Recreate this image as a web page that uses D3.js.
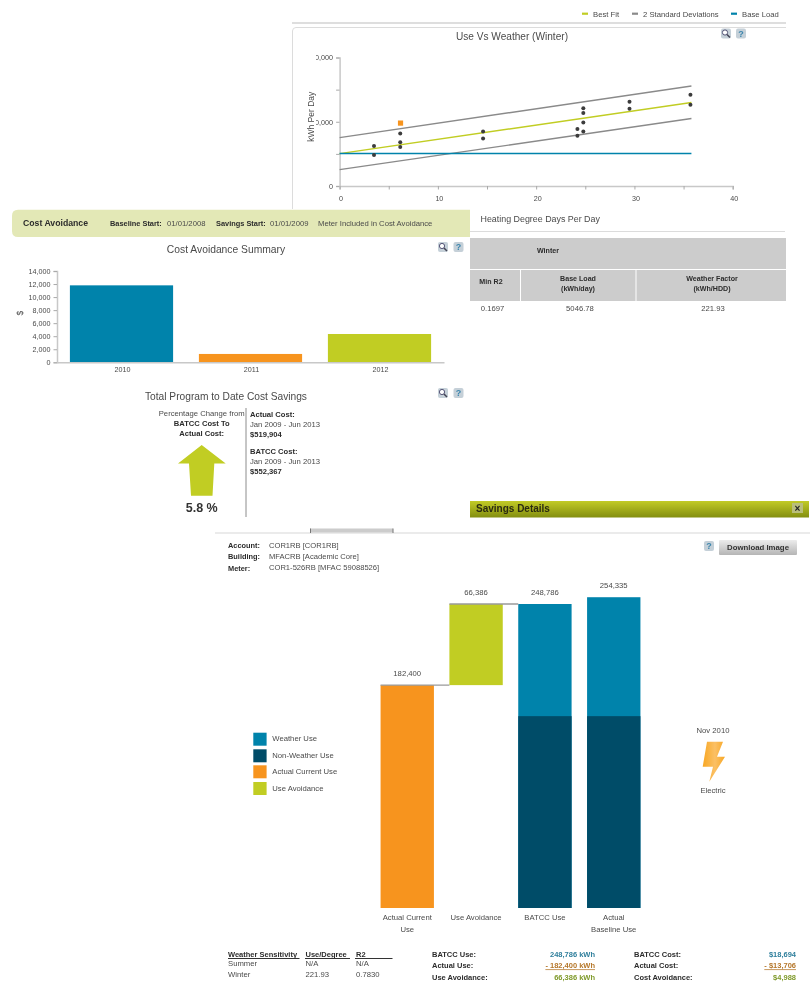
<!DOCTYPE html>
<html><head><meta charset="utf-8">
<script src="https://cdnjs.cloudflare.com/ajax/libs/d3/7.8.5/d3.min.js"></script>
<style>
html,body{margin:0;padding:0;background:#fff;overflow:hidden}
svg{display:block;filter:blur(0.55px);font-family:"Liberation Sans",Arial,sans-serif}
</style></head><body><svg id="c" width="812" height="997"></svg>
<script>
// ---- data ----
const scatterHdd    = [3.5,3.5,6.17,6.17,6.17,14.6,14.6,24.2,24.2,24.8,24.8,24.8,24.8,29.5,29.5,35.7,35.7];
const scatterUse    = [6220,4820,8190,6790,6060,8500,7410,8860,7820,12120,11350,9900,8500,13110,12020,14200,12640];
const currentHdd    = [6.2];
const currentUse    = [9790];
const fitHdd        = [0,35.8];
const bestFit       = [5047,12992];
const upperDev      = [7530,15570];
const lowerDev      = [2550,10500];
const baseLoad      = [5047,5047];
const scatterLegend = ["Best Fit","2 Standard Deviations","Base Load"];

const costYears  = ["2010","2011","2012"];
const costValues = [11800,1280,4340];

const useCategories = [["Actual Current","Use"],["Use Avoidance"],["BATCC Use"],["Actual","Baseline Use"]];
const useKeys       = ["Actual Current Use","Use Avoidance","BATCC Use","Actual Baseline Use"];
const useTotals     = [182400,248786,248786,254335];
const useBases      = [0,182400,0,0];
const useLabels     = [182400,66386,248786,254335];
const nonWeather    = [0,0,157000,157000];
const useLegend     = ["Weather Use","Non-Weather Use","Actual Current Use","Use Avoidance"];

const COL = {blue:"#0083ab",dark:"#004c68",orange:"#f7941e",lime:"#c1cd23",gray:"#8a8a8a",txt:"#4a4a4a",bold:"#2c2c2c"};
const svg = d3.select("#c");
const defs = svg.append("defs");
const FS = 7.7;

function T(x,y,s,o={}){
  const t = svg.append("text").attr("x",x).attr("y",y).attr("dy","0.35em").text(s)
    .attr("font-size",o.size||FS).attr("fill",o.fill||(o.bold?COL.bold:COL.txt))
    .attr("text-anchor",o.anchor||"start");
  if(o.bold) t.attr("font-weight","bold");
  if(o.rotate) t.attr("transform",`rotate(${o.rotate} ${x} ${y})`);
  if(o.underline) t.attr("text-decoration","underline");
  return t;
}
function R(x,y,w,h,f){return svg.append("rect").attr("x",x).attr("y",y).attr("width",w).attr("height",h).attr("fill",f);}
function L(x1,y1,x2,y2,c,w){return svg.append("line").attr("x1",x1).attr("y1",y1).attr("x2",x2).attr("y2",y2).attr("stroke",c).attr("stroke-width",w||1);}
function iconBtn(cx,cy,kind){
  R(cx-5,cy-5,10,10,"#c5d0d8").attr("rx",2);
  if(kind==="?") T(cx,cy,"?",{size:9,bold:true,anchor:"middle",fill:"#3d86ad"});
  else{
    svg.append("circle").attr("cx",cx-1).attr("cy",cy-1).attr("r",2.6).attr("fill","#fff").attr("stroke","#557").attr("stroke-width",1);
    L(cx+1,cy+1,cx+4,cy+4,"#445",1.5);
  }
}
function styleAxis(g,dx,dy){
  g.selectAll("path.domain").attr("stroke","#c8c8c8").attr("stroke-width",1.5);
  g.selectAll(".tick line").attr("stroke","#aaa");
  g.selectAll("text").attr("fill",COL.txt).attr("font-size",7.2).attr("font-family","Liberation Sans")
    .attr("transform",`translate(${dx||0},${dy||0})`);
}

// ---- top chart: Use Vs Weather ----
L(292,23,786,23,"#dedede",2);
svg.append("path").attr("d","M292.5,209V31Q292.5,27.5 296,27.5H786").attr("fill","none").attr("stroke","#dcdcdc");
const lgX=[582,632,731], lgT=[593,643,742], lgC=[COL.lime,COL.gray,COL.blue];
scatterLegend.forEach((s,i)=>{R(lgX[i],12.6,6,2.2,lgC[i]);T(lgT[i],14,s);});
T(512,36,"Use Vs Weather (Winter)",{size:10.1,anchor:"middle"});
iconBtn(726,33.5,"m");iconBtn(741,33.5,"?");
const sx=d3.scaleLinear().domain([0,40]).range([339.6,732.7]);
const sy=d3.scaleLinear().domain([0,20000]).range([186,57.5]);
defs.append("clipPath").attr("id","clipY").append("rect").attr("x",316).attr("y",40).attr("width",40).attr("height",165);
const yAx=svg.append("g").attr("clip-path","url(#clipY)").append("g").attr("transform","translate(339.6,0)")
  .call(d3.axisLeft(sy).tickValues([0,5000,10000,15000,20000]).tickSize(3.5).tickPadding(3).tickFormat(d=>d%10000===0?d3.format(",")(d):""));
styleAxis(yAx);
const xAx=svg.append("g").attr("transform","translate(0,186)")
  .call(d3.axisBottom(sx).tickValues([0,5,10,15,20,25,30,35,40]).tickSize(3.5).tickPadding(5).tickFormat(d=>d%10===0?d:""));
styleAxis(xAx,1,1);
const ln=d3.line().x((d,i)=>sx(fitHdd[i])).y(d=>sy(d));
[[upperDev,COL.gray],[lowerDev,COL.gray],[bestFit,COL.lime],[baseLoad,COL.blue]].forEach(([a,c])=>{
  svg.append("path").attr("d",ln(a)).attr("fill","none").attr("stroke",c).attr("stroke-width",1.4);
});
svg.append("g").selectAll("circle").data(scatterHdd).join("circle")
  .attr("cx",d=>sx(d)).attr("cy",(d,i)=>sy(scatterUse[i])).attr("r",2).attr("fill","#3c3c3c");
svg.append("g").selectAll("rect").data(currentHdd).join("rect")
  .attr("x",d=>sx(d)-2.6).attr("y",(d,i)=>sy(currentUse[i])-2.6).attr("width",5.2).attr("height",5.2).attr("fill",COL.orange);
T(310.7,116.7,"kWh Per Day",{size:8.5,anchor:"middle",rotate:-90});
T(480.5,219,"Heating Degree Days Per Day",{size:8.9});
L(470,231.5,785,231.5,"#dcdcdc",1);

// ---- table ----
R(470,238,316,31,"#cccccc");
R(470,270,50,31,"#cccccc");R(521,270,114.5,31,"#cccccc");R(636.5,270,149.5,31,"#cccccc");
T(548,251,"Winter",{size:7.1,bold:true,anchor:"middle"});
T(491,282,"Min R2",{size:7.1,bold:true,anchor:"middle"});
T(578,278.5,"Base Load",{size:7.1,bold:true,anchor:"middle"});
T(578,289,"(kWh/day)",{size:7.1,bold:true,anchor:"middle"});
T(712,278.5,"Weather Factor",{size:7.1,bold:true,anchor:"middle"});
T(712,289,"(kWh/HDD)",{size:7.1,bold:true,anchor:"middle"});
T(492.5,308.5,"0.1697",{anchor:"middle"});
T(580,308.5,"5046.78",{anchor:"middle"});
T(713,308.5,"221.93",{anchor:"middle"});

// ---- banner ----
svg.append("path").attr("d","M470,209.7H18Q12,209.7 12,215.7V231Q12,237 18,237H470Z").attr("fill","#e3e8b6");
T(23,223,"Cost Avoidance",{size:8.7,bold:true});
T(110,223,"Baseline Start:",{size:7.4,bold:true});
T(167,223,"01/01/2008",{});
T(216,223,"Savings Start:",{size:7.4,bold:true});
T(270,223,"01/01/2009",{});
T(318,223,"Meter Included in Cost Avoidance",{});

// ---- cost avoidance summary ----
T(226,249.5,"Cost Avoidance Summary",{size:10.3,anchor:"middle"});
iconBtn(443,247,"m");iconBtn(458.5,247,"?");
const bx=d3.scaleBand().domain(costYears).range([57,444]).paddingInner(0.2).paddingOuter(0.1);
const by=d3.scaleLinear().domain([0,14000]).range([362.3,271]);
const bCol=[COL.blue,COL.orange,COL.lime];
svg.append("g").selectAll("rect").data(costValues).join("rect")
  .attr("x",(d,i)=>bx(costYears[i])).attr("y",d=>by(d)).attr("width",bx.bandwidth())
  .attr("height",d=>by(0)-by(d)).attr("fill",(d,i)=>bCol[i]);
const bya=svg.append("g").attr("transform","translate(57,0)")
  .call(d3.axisLeft(by).tickValues(d3.range(0,14001,2000)).tickSize(3.5).tickPadding(3).tickFormat(d3.format(",")));
styleAxis(bya);
const bxa=svg.append("g").attr("transform","translate(0,362.3)").call(d3.axisBottom(bx).tickSize(0).tickPadding(5));
styleAxis(bxa,1,0);
T(20,313,"$",{size:8.5,anchor:"middle",rotate:-90});

// ---- total program ----
T(226,396,"Total Program to Date Cost Savings",{size:10.2,anchor:"middle"});
iconBtn(443,393,"m");iconBtn(458.5,393,"?");
T(201.7,413.7,"Percentage Change from",{anchor:"middle"});
T(201.7,423.7,"BATCC Cost To",{size:7.6,bold:true,anchor:"middle"});
T(201.7,433.7,"Actual Cost:",{size:7.6,bold:true,anchor:"middle"});
svg.append("path").attr("d","M201.7,445L225.7,463.5H214.3L212.5,495.7H191L189,463.5H178Z").attr("fill",COL.lime);
T(201.7,508,"5.8 %",{size:12.5,anchor:"middle",fill:"#333"}).attr("font-weight","bold");
L(246,408,246,517,"#8c8c8c",1);
T(250,414,"Actual Cost:",{size:7.6,bold:true});
T(250,424,"Jan 2009 - Jun 2013");
T(250,434,"$519,904",{size:7.6,bold:true});
T(250,451,"BATCC Cost:",{size:7.6,bold:true});
T(250,461,"Jan 2009 - Jun 2013");
T(250,471,"$552,367",{size:7.6,bold:true});

// ---- savings details header ----
const g1=defs.append("linearGradient").attr("id","olive").attr("x1",0).attr("x2",0).attr("y1",0).attr("y2",1);
g1.append("stop").attr("offset",0).attr("stop-color","#c2cb26");
g1.append("stop").attr("offset",1).attr("stop-color","#838e10");
R(470,501,339,16.5,"url(#olive)");
T(476,508.5,"Savings Details",{size:10,bold:true,fill:"#2a2a10"});
R(792,503,11,10,"#b9be7a");
T(797.5,508,"×",{size:10,anchor:"middle",fill:"#222",bold:true});
L(215,533,810,533,"#e4e4e4",1.5);
R(310,528.5,83,4,"#cccccc");L(310.5,528.5,310.5,533,"#777",1);L(393,528.5,393,533,"#777",1);

T(228,545.5,"Account:",{size:7.4,bold:true});T(269,545,"COR1RB [COR1RB]",{size:7.6});
T(228,556.5,"Building:",{size:7.4,bold:true});T(269,556,"MFACRB [Academic Core]",{size:7.6});
T(228,568,"Meter:",{size:7.4,bold:true});T(269,567.5,"COR1-526RB [MFAC 59088526]",{size:7.6});
iconBtn(709,546,"?");
const g2=defs.append("linearGradient").attr("id","btn").attr("x1",0).attr("x2",0).attr("y1",0).attr("y2",1);
g2.append("stop").attr("offset",0).attr("stop-color","#ececec");
g2.append("stop").attr("offset",1).attr("stop-color","#b5b5b5");
R(719,540,78,15,"url(#btn)").attr("rx",1);
T(758,547.5,"Download Image",{size:7.8,bold:true,anchor:"middle",fill:"#333"});

// ---- waterfall ----
const wx=d3.scaleBand().domain(useKeys).range([373,648]).paddingInner(0.225).paddingOuter(0.11);
const wy=d3.scaleLinear().domain([0,248786]).range([908,604]);
const wCol=[COL.orange,COL.lime,COL.blue,COL.blue];
svg.append("g").selectAll("rect").data(useTotals).join("rect")
  .attr("x",(d,i)=>wx(useKeys[i])).attr("y",d=>wy(d)).attr("width",wx.bandwidth())
  .attr("height",(d,i)=>wy(useBases[i])-wy(d)).attr("fill",(d,i)=>wCol[i]);
svg.append("g").selectAll("rect").data(nonWeather).join("rect")
  .attr("x",(d,i)=>wx(useKeys[i])).attr("y",d=>wy(d)).attr("width",wx.bandwidth())
  .attr("height",d=>wy(0)-wy(d)).attr("fill",COL.dark);
// connectors
L(wx(useKeys[0]),wy(useTotals[0]),wx(useKeys[1]),wy(useTotals[0]),"#9a9a9a",1.4);
L(wx(useKeys[1]),wy(useTotals[1]),wx(useKeys[2]),wy(useTotals[1]),"#9a9a9a",1.4);
useLabels.forEach((v,i)=>{
  const cx=wx(useKeys[i])+wx.bandwidth()/2;
  T(cx,wy(useTotals[i])-11.5,d3.format(",")(v),{anchor:"middle"});
  useCategories[i].forEach((s,j)=>T(cx,917.5+j*12,s,{anchor:"middle"}));
});
// legend
const uCol=[COL.blue,COL.dark,COL.orange,COL.lime], uY=[732.7,749.3,765.3,782];
useLegend.forEach((s,i)=>{R(253.3,uY[i],13.3,13,uCol[i]);T(272.3,uY[i]+6,s);});

// bolt
T(713,730.7,"Nov 2010",{anchor:"middle"});
const g3=defs.append("linearGradient").attr("id","bolt").attr("x1",0).attr("x2",1).attr("y1",0).attr("y2",0);
g3.append("stop").attr("offset",0).attr("stop-color","#f8a723");
g3.append("stop").attr("offset",0.55).attr("stop-color","#fbc065");
g3.append("stop").attr("offset",1).attr("stop-color","#f8a723");
svg.append("path").attr("d","M707,741.7H723L717,756.7H725L709.3,781.7L713,766.7H702.7Z").attr("fill","url(#bolt)");
T(713,790.7,"Electric",{anchor:"middle"});

// ---- bottom tables ----
const B=7.5;
T(228,954,"Weather Sensitivity",{size:B,bold:true});
T(305.5,954,"Use/Degree",{size:B,bold:true});
T(356,954,"R2",{size:B,bold:true});
L(228,958.5,299.5,958.5,"#333",1);L(305,958.5,350,958.5,"#333",1);L(355,958.5,392.5,958.5,"#333",1);
T(228,963.5,"Summer");T(305.5,963.5,"N/A");T(356,963.5,"N/A");
T(228,974.5,"Winter");T(305.5,974.5,"221.93");T(356,974.5,"0.7830");

const cTeal="#2f7f9c", cBrown="#b5772a", cOlive="#7f9a2a";
T(432,954,"BATCC Use:",{size:B,bold:true});T(595,954,"248,786 kWh",{size:B,bold:true,anchor:"end",fill:cTeal});
T(432,965.7,"Actual Use:",{size:B,bold:true});T(595,965.7,"- 182,400 kWh",{size:B,bold:true,anchor:"end",fill:cBrown,underline:true});
T(432,977.5,"Use Avoidance:",{size:B,bold:true});T(595,977.5,"66,386 kWh",{size:B,bold:true,anchor:"end",fill:cOlive});
T(634,954,"BATCC Cost:",{size:B,bold:true});T(796,954,"$18,694",{size:B,bold:true,anchor:"end",fill:cTeal});
T(634,965.7,"Actual Cost:",{size:B,bold:true});T(796,965.7,"- $13,706",{size:B,bold:true,anchor:"end",fill:cBrown,underline:true});
T(634,977.5,"Cost Avoidance:",{size:B,bold:true});T(796,977.5,"$4,988",{size:B,bold:true,anchor:"end",fill:cOlive});
</script></body></html>
